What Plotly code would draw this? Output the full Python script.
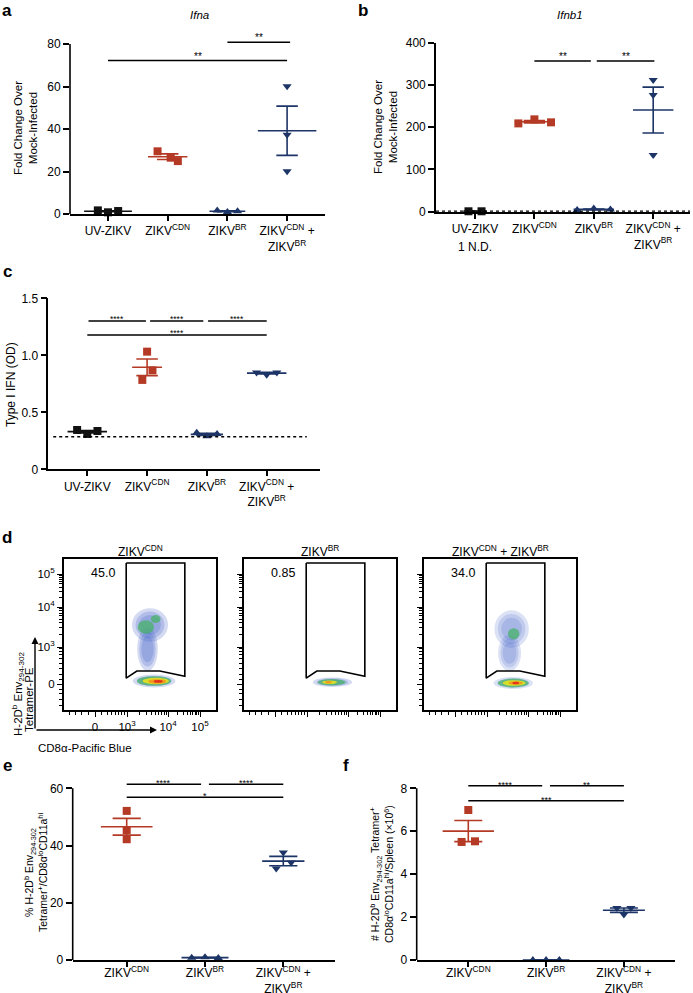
import numpy as np
import plotly.graph_objects as go

W, H = 693, 993
FONT = "Arial, Liberation Sans, sans-serif"
BLACK = "#111111"
RED = "#B53A25"
NAVY = "#1D3466"

# ---------------- data ----------------
cats4 = ["UV-ZIKV", "ZIKV<sup>CDN</sup>", "ZIKV<sup>BR</sup>",
         "ZIKV<sup>CDN</sup> +<br>ZIKV<sup>BR</sup>"]
cats3 = ["ZIKV<sup>CDN</sup>", "ZIKV<sup>BR</sup>",
         "ZIKV<sup>CDN</sup> +<br>ZIKV<sup>BR</sup>"]

# a: Ifna fold change
ifna_uv = [1.7, 0.8, 1.4]
ifna_cdn = [29.5, 24.9, 26.5]
ifna_br = [1.6, 0.9, 1.3]
ifna_combo = [60.1, 37.3, 20.1]
# b: Ifnb1 fold change (UV-ZIKV: 1 N.D.)
ifnb_uv = [1.0, 1.0]
ifnb_cdn = [209.0, 218.6, 211.5]
ifnb_br = [4.0, 7.5, 5.0]
ifnb_combo = [311.7, 276.0, 134.0]
# c: Type I IFN (OD)
ifn_uv = [0.345, 0.31, 0.336]
ifn_cdn = [0.784, 1.032, 0.868]
ifn_br = [0.32, 0.29, 0.31]
ifn_combo = [0.85, 0.83, 0.85]
# d: gate frequencies
flow_titles = ["ZIKV<sup>CDN</sup>", "ZIKV<sup>BR</sup>", "ZIKV<sup>CDN</sup> + ZIKV<sup>BR</sup>"]
flow_freq = ["45.0", "0.85", "34.0"]
# e: % tetramer+
pct_cdn = [52.1, 45.4, 42.2]
pct_br = [0.8, 1.0, 0.7]
pct_combo = [37.6, 34.1, 32.0]
# f: number per spleen (x10^6)
num_cdn = [6.99, 5.5, 5.53]
num_br = [0.0, 0.0, 0.0]
num_combo = [2.42, 2.42, 2.12]

# horizontal spread of dots within a group (category units)
jit_a = [[-0.17, 0, 0.17], [-0.17, 0.17, 0.05], [-0.17, 0, 0.17], [0, 0, 0]]
jit_b = [[-0.11, 0.11], [-0.27, 0, 0.28], [-0.28, 0, 0.28], [0, 0, 0]]
jit_c = [[-0.17, 0, 0.17], [-0.08, 0, 0.09], [-0.17, 0, 0.17], [-0.17, 0, 0.17]]
jit_e = [[0, 0, 0], [-0.17, 0, 0.17], [0, 0.1, -0.09]]
jit_f = [[0, -0.086, 0.086], [-0.17, 0, 0.17], [-0.09, 0.09, 0]]

# significance brackets: (from, to, level, label)
sig_a = [(0, 3, 72.2, "**"), (2.0, 3.05, 80.8, "**")]
sig_b = [(1, 1.95, 356.6, "**"), (2.05, 3.02, 356.6, "**")]
sig_c = [(0.02, 0.98, 1.30, "****"), (1.05, 1.94, 1.30, "****"),
         (2.02, 3.0, 1.30, "****"), (0, 3.0, 1.178, "****")]
sig_e = [(0, 0.95, 61.4, "****"), (1.05, 2.0, 61.4, "****"), (0, 2.0, 56.9, "*")]
sig_f = [(0, 0.95, 8.12, "****"), (1.05, 2.0, 8.12, "**"), (0, 2.0, 7.42, "***")]

# flow gate polygon (display units)
gate_x = [2.98, 4.41, 4.41, 3.80, 3.24, 2.98, 2.98]
gate_y = [5.10, 5.10, 2.27, 2.40, 2.40, 2.22, 5.10]

# flow density populations: centre x, centre y, radius x, radius y, density level
blobs = [
    [(3.66, 2.15, 0.52, 0.16, 0), (3.66, 2.15, 0.42, 0.12, 1), (3.70, 2.15, 0.32, 0.08, 2),
     (3.74, 2.14, 0.22, 0.055, 3), (3.76, 2.14, 0.11, 0.035, 4),
     (3.50, 2.95, 0.25, 0.55, 0), (3.56, 3.55, 0.44, 0.42, 0),
     (3.46, 3.50, 0.20, 0.17, 1), (3.70, 3.70, 0.12, 0.10, 1)],
    [(3.62, 2.12, 0.48, 0.12, 0), (3.60, 2.12, 0.34, 0.08, 1),
     (3.55, 2.12, 0.18, 0.045, 2), (3.52, 2.12, 0.08, 0.03, 3)],
    [(3.64, 2.10, 0.48, 0.15, 0), (3.64, 2.10, 0.38, 0.11, 1), (3.66, 2.10, 0.28, 0.07, 2),
     (3.70, 2.10, 0.17, 0.045, 3), (3.70, 2.10, 0.08, 0.03, 4),
     (3.55, 2.85, 0.28, 0.45, 0), (3.60, 3.45, 0.42, 0.47, 0), (3.65, 3.33, 0.14, 0.14, 1)],
]
level_col = ["#3D5CC6", "#47B26A", "#E4E21E", "#F2961C", "#E3331B"]
level_op = [0.5, 0.75, 0.9, 0.95, 1.0]

# ---------------- figure ----------------
fig = go.Figure()
layout = dict(width=W, height=H, margin=dict(l=0, r=0, t=0, b=0, pad=0, autoexpand=False),
              paper_bgcolor="white", plot_bgcolor="white", showlegend=False,
              font=dict(family=FONT, color="black", size=11))
shapes, annos = [], []


def refs(n):
    return ("x" if n == 1 else f"x{n}", "y" if n == 1 else f"y{n}",
            "xaxis" if n == 1 else f"xaxis{n}", "yaxis" if n == 1 else f"yaxis{n}")


def add_group(xr, yr, pos, vals, jit, color, symbol, hw, cap=0.18):
    v = np.array(vals, float)
    m = v.mean()
    s = v.std(ddof=1) / np.sqrt(len(v))
    fig.add_trace(go.Scatter(x=[pos - hw, pos + hw], y=[m, m], mode="lines",
                             line=dict(color=color, width=1.6), xaxis=xr, yaxis=yr))
    fig.add_trace(go.Scatter(x=[pos, pos, None, pos - cap, pos + cap, None, pos - cap, pos + cap],
                             y=[m - s, m + s, None, m + s, m + s, None, m - s, m - s],
                             mode="lines", line=dict(color=color, width=1.6), xaxis=xr, yaxis=yr))
    fig.add_trace(go.Scatter(x=[pos + j for j in jit], y=vals, mode="markers",
                             marker=dict(color=color, symbol=symbol, size=8, line=dict(width=0)),
                             xaxis=xr, yaxis=yr, cliponaxis=False))


def dot_panel(n, L, R, c0, sp, p0, p1, v1, top, tickvals, cats, groups, jits, hws,
              colors, symbols, sigs, sig_font, sig_shift, manual_y, lbl_standoff=0):
    xr, yr, xk, yk = refs(n)
    xd = [L / W, R / W]
    xrange = [(L - c0) / sp, (R - c0) / sp]
    s = (p0 - p1) / v1
    yd = [1 - p0 / H, 1 - (p0 - top * s) / H]
    ax = dict(showgrid=False, zeroline=False, ticks="outside", ticklen=6, tickwidth=1.5,
              tickcolor="black", linecolor="black", linewidth=1.6, automargin=False,
              tickfont=dict(size=12, family=FONT, color="black"), fixedrange=True)
    layout[xk] = dict(ax, domain=xd, range=xrange, anchor=yr, showline=True, ticklen=5,
                      tickvals=list(range(len(cats))), ticktext=cats,
                      ticklabelstandoff=lbl_standoff,
                      tickfont=dict(size=12, family=FONT, color="black"))
    layout[yk] = dict(ax, domain=yd, range=[0, top], anchor=xr, showline=not manual_y,
                      tickvals=tickvals)
    if manual_y:
        shapes.append(dict(type="line", xref="paper", yref=yr, x0=L / W, x1=L / W,
                           y0=0, y1=tickvals[-1], line=dict(color="black", width=1.6)))
    for i, (vals, jit, hw, c, sy) in enumerate(zip(groups, jits, hws, colors, symbols)):
        add_group(xr, yr, i, vals, jit, c, sy, hw)
    for (a, b, lv, lab) in sigs:
        shapes.append(dict(type="line", xref=xr, yref=yr, x0=a, x1=b, y0=lv, y1=lv,
                           line=dict(color="black", width=1.5)))
        annos.append(dict(xref=xr, yref=yr, x=(a + b) / 2, y=lv, text=lab, showarrow=False,
                          yanchor="middle", yshift=sig_shift,
                          font=dict(size=sig_font, color="black")))
    return xrange


cols4 = [BLACK, RED, NAVY, NAVY]
syms4 = ["square", "square", "triangle-up", "triangle-down"]
cols3 = [RED, NAVY, NAVY]
syms3 = ["square", "triangle-up", "triangle-down"]

# a
dot_panel(1, 70, 325, 108, 59.7, 214, 44, 80, 82, [0, 20, 40, 60, 80], cats4,
          [ifna_uv, ifna_cdn, ifna_br, ifna_combo], jit_a, [0.4, 0.33, 0.3, 0.49],
          cols4, syms4, sig_a, 10, 4.5, True)
# b
xr_b = dot_panel(2, 436, 690, 475, 59.4, 211.7, 42.7, 400, 400, [0, 100, 200, 300, 400], cats4,
                 [ifnb_uv, ifnb_cdn, ifnb_br, ifnb_combo], jit_b, [0.2, 0.33, 0.34, 0.34],
                 cols4, syms4, sig_b, 10, 4.5, False)
shapes.append(dict(type="line", xref="x2", yref="y2", x0=xr_b[0], x1=xr_b[1], y0=1, y1=1,
                   line=dict(color="black", width=1.5, dash="dot")))
# c
dot_panel(3, 48.3, 320, 87.3, 59.8, 469.3, 298.3, 1.5, 1.5, [0, 0.5, 1.0, 1.5], cats4,
          [ifn_uv, ifn_cdn, ifn_br, ifn_combo], jit_c, [0.33, 0.25, 0.27, 0.33],
          cols4, syms4, sig_c, 8.5, 2.5, False)
layout["yaxis3"]["ticktext"] = ["0", "0.5", "1.0", "1.5"]
shapes.append(dict(type="line", xref="x3", yref="y3", x0=-0.57, x1=3.67, y0=0.285, y1=0.285,
                   line=dict(color="black", width=1.5, dash="dot")))
# e
dot_panel(7, 72.7, 335, 126.7, 78.3, 960, 788.3, 60, 63, [0, 20, 40, 60], cats3,
          [pct_cdn, pct_br, pct_combo], jit_e, [0.33, 0.3, 0.27],
          cols3, syms3, sig_e, 9, 1.0, True, lbl_standoff=-4)
# f
dot_panel(8, 416.7, 675, 468.3, 77.8, 960, 788.3, 8, 8.4, [0, 2, 4, 6, 8], cats3,
          [num_cdn, num_br, num_combo], jit_f, [0.33, 0.3, 0.27],
          cols3, syms3, sig_f, 9, 1.0, True, lbl_standoff=-4)

# d: flow panels
FX0, FPX = 1.463, 41.0
FY_TOP, FY_BOT = 559, 710
fy_range = [3 - (FY_BOT - 647) / 40.0, 3 + (647 - FY_TOP) / 40.0]
x_major = [2.22, 3, 4, 4.78]
y_major = [2.075, 3, 4, 4.825]
dec_lbl = ["0", "10<sup>3</sup>", "10<sup>4</sup>", "10<sup>5</sup>"]
x_minor = [1.6, 1.75, 1.9, 2.05, 2.38, 2.52, 2.63, 2.72, 2.8, 2.87, 2.93] + \
          [3 + np.log10(k) for k in range(2, 10)] + [4 + 0.78 * np.log10(k) for k in range(2, 10)]
y_minor = [1.55, 1.7, 1.85, 1.95, 2.2, 2.32, 2.46, 2.6, 2.72, 2.82, 2.9, 2.96] + \
          [3 + np.log10(k) for k in range(2, 10)] + [4 + 0.825 * np.log10(k) for k in range(2, 10)]

for k, L in enumerate([64, 244, 424]):
    n = 4 + k
    xr, yr, xk, yk = refs(n)
    R = L + 152
    fax = dict(showgrid=False, zeroline=False, showline=True, mirror=True, linecolor="black",
               linewidth=2, ticks="outside", ticklen=5, tickwidth=1.4, tickcolor="black",
               tickfont=dict(size=11.5, family=FONT, color="black"), fixedrange=True,
               automargin=False, showticklabels=(k == 0), ticktext=dec_lbl)
    layout[xk] = dict(fax, domain=[L / W, R / W], range=[FX0, FX0 + 152 / FPX], anchor=yr,
                      tickvals=x_major,
                      minor=dict(tickvals=x_minor, ticks="outside", ticklen=3, tickwidth=1,
                                 tickcolor="black"))
    layout[yk] = dict(fax, domain=[1 - FY_BOT / H, 1 - FY_TOP / H], range=fy_range, anchor=xr,
                      tickvals=y_major,
                      minor=dict(tickvals=y_minor, ticks="outside", ticklen=3, tickwidth=1,
                                 tickcolor="black"))
    for (cx, cy, rx, ry, lv) in blobs[k]:
        rings = [1.0, 0.8, 0.6] if lv == 0 else [1.0]
        for sc in rings:
            op = level_op[lv] / (2.2 if lv == 0 else 1.0)
            if k == 2 and lv == 0:
                op *= 0.8
            shapes.append(dict(type="circle", xref=xr, yref=yr, x0=cx - rx * sc, x1=cx + rx * sc,
                               y0=cy - ry * sc, y1=cy + ry * sc, fillcolor=level_col[lv],
                               opacity=op, line=dict(width=0), layer="below"))
    fig.add_trace(go.Scatter(x=gate_x, y=gate_y, mode="lines", line=dict(color="black", width=1.6),
                             xaxis=xr, yaxis=yr))
    annos.append(dict(xref=xr, yref=yr, x=2.41, y=4.85, text=flow_freq[k], showarrow=False,
                      xanchor="center", yanchor="middle", font=dict(size=12.5, color="black")))
    annos.append(dict(xref="paper", yref="paper", x=(L + 76) / W, y=1 - 551 / H,
                      text=flow_titles[k], showarrow=False, xanchor="center", yanchor="middle",
                      font=dict(size=12, color="black")))

# flow axis arrows and labels
annos.append(dict(xref="paper", yref="paper", x=35 / W, y=1 - 637 / H, ax=0, ay=93,
                  axref="pixel", ayref="pixel", text="", showarrow=True, arrowhead=2,
                  arrowsize=1, arrowwidth=1.4, arrowcolor="black"))
annos.append(dict(xref="paper", yref="paper", x=157 / W, y=1 - 730 / H, ax=-122, ay=0,
                  axref="pixel", ayref="pixel", text="", showarrow=True, arrowhead=2,
                  arrowsize=1, arrowwidth=1.4, arrowcolor="black"))
annos.append(dict(xref="paper", yref="paper", x=36 / W, y=1 - 748 / H, text="CD8α-Pacific Blue",
                  showarrow=False, xanchor="left", yanchor="middle",
                  font=dict(size=11.5, color="black")))
annos.append(dict(xref="paper", yref="paper", x=18 / W, y=1 - 694 / H,
                  text="H-2D<sup>b</sup> Env<sub>294-302</sub>",
                  showarrow=False, textangle=-90, xanchor="center", yanchor="middle",
                  font=dict(size=11.5, color="black")))
annos.append(dict(xref="paper", yref="paper", x=29 / W, y=1 - 700 / H,
                  text="Tetramer-PE",
                  showarrow=False, textangle=-90, xanchor="center", yanchor="middle",
                  font=dict(size=11.5, color="black")))

# titles, y-axis titles, panel letters
annos += [
    dict(x=200 / W, y=1 - 15 / H, text="<i>Ifna</i>", font=dict(size=11.5)),
    dict(x=570 / W, y=1 - 15 / H, text="<i>Ifnb1</i>", font=dict(size=11.5)),
    dict(x=25 / W, y=1 - 128 / H, text="Fold Change Over<br>Mock-Infected", textangle=-90,
         font=dict(size=11.5)),
    dict(x=386 / W, y=1 - 127 / H, text="Fold Change Over<br>Mock-Infected", textangle=-90,
         font=dict(size=11.5)),
    dict(x=11 / W, y=1 - 385 / H, text="Type I IFN (OD)", textangle=-90, font=dict(size=12)),
    dict(x=35 / W, y=1 - 873 / H,
         text="% H-2D<sup>b</sup> Env<sub>294-302</sub><br>Tetramer<sup>+</sup>/CD8α<sup>lo</sup>CD11a<sup>hi</sup>",
         textangle=-90, font=dict(size=10.5)),
    dict(x=381 / W, y=1 - 874 / H,
         text="# H-2D<sup>b</sup> Env<sub>294-302</sub> Tetramer<sup>+</sup><br>CD8α<sup>lo</sup>CD11a<sup>hi</sup>/Spleen (×10<sup>6</sup>)",
         textangle=-90, font=dict(size=10.5)),
    dict(x=475 / W, y=1 - 247 / H, text="1 N.D.", font=dict(size=12)),
]
for lab, px, py in [("a", 7, 10.5), ("b", 363, 10.5), ("c", 7, 271), ("d", 7, 537),
                    ("e", 7, 765), ("f", 346, 765)]:
    annos.append(dict(x=px / W, y=1 - py / H, text=f"<b>{lab}</b>", font=dict(size=17)))

for a in annos:
    a.setdefault("xref", "paper")
    a.setdefault("yref", "paper")
    a.setdefault("showarrow", False)
    a.setdefault("xanchor", "center")
    a.setdefault("yanchor", "middle")
    a.setdefault("font", {})
    a["font"].setdefault("color", "black")
    a["font"].setdefault("family", FONT)

layout["shapes"] = shapes
layout["annotations"] = annos
fig.update_layout(**layout)
fig.write_html("out.html", config={"displayModeBar": False},
               post_script="document.body.style.margin='0px';document.body.style.overflow='hidden';")
